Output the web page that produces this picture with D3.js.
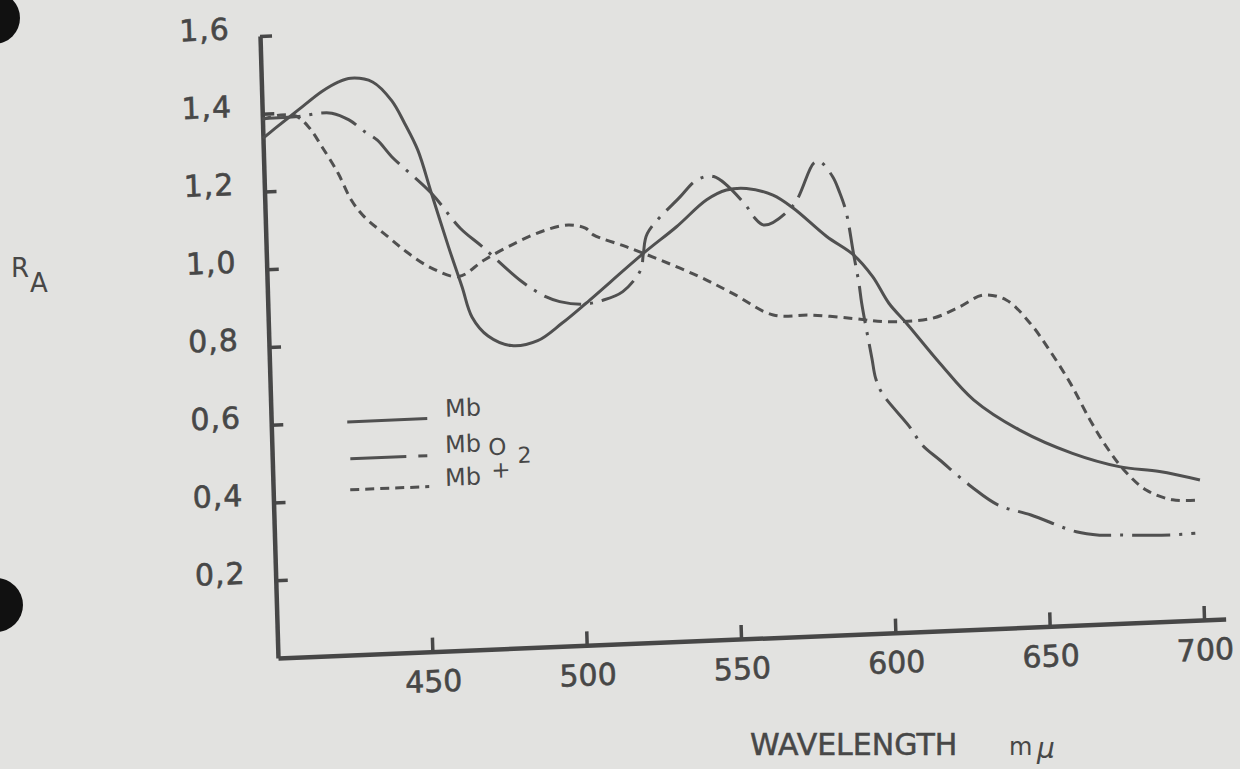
<!DOCTYPE html>
<html>
<head>
<meta charset="utf-8">
<script src="https://cdn.jsdelivr.net/npm/d3@7"></script>
<style>
  body { margin: 0; background: #e2e2e0; }
  svg { display: block; font-family: "DejaVu Sans", sans-serif; }
</style>
</head>
<body>
<div id="chart"></div>
<script>
// Tick values
const xTicks = [450, 500, 550, 600, 650, 700];
const yTicks = [0.2, 0.4, 0.6, 0.8, 1.0, 1.2, 1.4, 1.6];

// Mb (solid)
const wlMb = [400, 404, 411.7, 419.5, 425, 429, 436, 442, 446, 450, 454, 459, 463, 466, 471, 478.5, 487, 495, 503, 522, 533, 543, 549.5, 556, 564.5, 571, 581.5, 590, 596, 601, 606.5, 617, 627.5, 642, 659, 674, 687, 700];
const raMb = [1.337, 1.361, 1.406, 1.451, 1.474, 1.482, 1.47, 1.42, 1.36, 1.29, 1.178, 1.039, 0.935, 0.855, 0.805, 0.778, 0.788, 0.83, 0.879, 1.001, 1.066, 1.132, 1.155, 1.157, 1.137, 1.101, 1.025, 0.975, 0.917, 0.847, 0.794, 0.687, 0.59, 0.508, 0.442, 0.403, 0.386, 0.36];

// MbO2 (dash-dot)
const wlMbO2 = [400, 411.5, 418, 422.5, 428, 433, 437, 441.5, 454, 463, 470, 482.5, 490, 494.5, 502, 508.5, 515, 521, 522, 523.5, 534.5, 540, 545.5, 555.5, 558, 561.5, 571, 578, 580, 584, 586, 588, 590, 591.5, 592.2, 595, 596, 598, 606.5, 610.5, 616, 626, 634.5, 645, 659.5, 667, 673.5, 690, 698];
const raMbO2 = [1.388, 1.389, 1.395, 1.394, 1.375, 1.343, 1.32, 1.276, 1.178, 1.085, 1.035, 0.941, 0.9, 0.886, 0.877, 0.885, 0.905, 0.959, 1.0, 1.052, 1.143, 1.184, 1.191, 1.115, 1.084, 1.061, 1.109, 1.215, 1.218, 1.178, 1.139, 1.087, 0.979, 0.901, 0.85, 0.707, 0.656, 0.616, 0.528, 0.479, 0.439, 0.367, 0.317, 0.288, 0.24, 0.229, 0.227, 0.222, 0.224];

// Mb+ (short dash)
const wlMbPlus = [400, 406, 411, 415, 419, 424, 428, 432, 439.5, 446, 453.5, 462, 470.5, 481.5, 490.5, 498, 503.5, 506, 516.5, 527.5, 540, 550.5, 563.5, 575.5, 589, 600, 615, 624, 631.5, 639, 646.5, 652.5, 659, 665, 670, 675.5, 682.5, 691, 699.5];
const raMbPlus = [1.385, 1.395, 1.39, 1.36, 1.309, 1.239, 1.169, 1.125, 1.071, 1.026, 0.985, 0.961, 1.001, 1.044, 1.071, 1.082, 1.072, 1.054, 1.02, 0.982, 0.935, 0.889, 0.829, 0.825, 0.812, 0.8, 0.804, 0.831, 0.858, 0.843, 0.781, 0.71, 0.622, 0.526, 0.456, 0.394, 0.34, 0.312, 0.309];

const ink = "#474747";
const height = 622;

const svg = d3.select("#chart")
  .append("svg")
  .attr("width", 1240)
  .attr("height", 769);

svg.append("rect")
  .attr("width", 1240)
  .attr("height", 769)
  .attr("fill", "#e2e2e0");

// punch holes of the scanned page
svg.append("circle").attr("cx", -6).attr("cy", 18).attr("r", 26).attr("fill", "#111");
svg.append("circle").attr("cx", -4).attr("cy", 605).attr("r", 27).attr("fill", "#111");

// the scanned plot is slightly skewed, so the plot group gets an affine transform
const g = svg.append("g")
  .attr("transform", "matrix(1,-0.04104,0.02894,1,260,36)");

const x = d3.scaleLinear().domain([400, 707]).range([0, 926 * 307 / 300]);
const y = d3.scaleLinear().domain([0, 1.6]).range([height, 0]);

// Axes
const yAxis = g.append("g")
  .call(d3.axisLeft(y)
    .tickValues(yTicks)
    .tickSize(-12)
    .tickSizeOuter(0)
    .tickPadding(30)
    .tickFormat(d => d3.format(".1f")(d).replace(".", ",")));

const xAxis = g.append("g")
  .attr("transform", `translate(0,${height})`)
  .call(d3.axisBottom(x)
    .tickValues(xTicks)
    .tickSize(-14)
    .tickSizeOuter(0)
    .tickPadding(19));

[xAxis, yAxis].forEach(ax => {
  ax.attr("font-family", null).attr("font-size", 30);
  ax.select(".domain").attr("stroke", ink).attr("stroke-width", 4.5);
  ax.selectAll(".tick line").attr("stroke", ink).attr("stroke-width", 3.5);
  ax.selectAll(".tick text")
    .attr("fill", ink)
    .attr("stroke", ink)
    .attr("stroke-width", 0.6);
});
yAxis.selectAll(".tick text").attr("y", -8).attr("letter-spacing", 1);

// Curves
const line = d3.line()
  .x(d => x(d[0]))
  .y(d => y(d[1]))
  .curve(d3.curveCatmullRom.alpha(0.5));

const series = [
  { wl: wlMb, ra: raMb, dash: null },
  { wl: wlMbO2, ra: raMbO2, dash: "38,9,3,9" },
  { wl: wlMbPlus, ra: raMbPlus, dash: "9,6" }
];

series.forEach(s => {
  g.append("path")
    .datum(d3.zip(s.wl, s.ra))
    .attr("fill", "none")
    .attr("stroke", "#505050")
    .attr("stroke-width", 3)
    .attr("stroke-dasharray", s.dash)
    .attr("d", line);
});

// Legend
const legend = g.append("g").attr("fill", ink).attr("font-size", 24);
const legendLines = [
  { x1: 76, x2: 156, y: 389, dash: null },
  { x1: 78, x2: 157, y: 426, dash: "56,12,9,20" },
  { x1: 77, x2: 156, y: 457, dash: "9,6" }
];
legendLines.forEach(l => {
  legend.append("line")
    .attr("x1", l.x1).attr("x2", l.x2)
    .attr("y1", l.y).attr("y2", l.y)
    .attr("stroke", "#505050")
    .attr("stroke-width", 3)
    .attr("stroke-dasharray", l.dash);
});
legend.append("text").attr("x", 174).attr("y", 388).text("Mb");
legend.append("text").attr("x", 173).attr("y", 424).text("Mb");
legend.append("text").attr("x", 216).attr("y", 428).attr("font-size", 23).text("O");
legend.append("text").attr("x", 245).attr("y", 437).attr("font-size", 22).text("2");
legend.append("text").attr("x", 172).attr("y", 457).text("Mb");
legend.append("text").attr("x", 228).attr("y", 443).attr("font-size", 23)
  .attr("text-anchor", "middle").attr("dominant-baseline", "central").text("+");

// Axis titles
svg.append("text").attr("x", 11).attr("y", 277).attr("font-size", 26).attr("fill", ink).text("R");
svg.append("text").attr("x", 30).attr("y", 292).attr("font-size", 26).attr("fill", ink).text("A");
svg.append("text").attr("x", 750).attr("y", 755).attr("font-size", 30).attr("fill", ink)
  .attr("stroke", ink).attr("stroke-width", 0.5).text("WAVELENGTH");
svg.append("text").attr("x", 1009).attr("y", 755).attr("font-size", 24).attr("fill", ink).text("m");
svg.append("text").attr("x", 1037).attr("y", 758).attr("font-size", 28).attr("font-style", "italic")
  .attr("fill", ink).text("µ");
</script>
</body>
</html>
